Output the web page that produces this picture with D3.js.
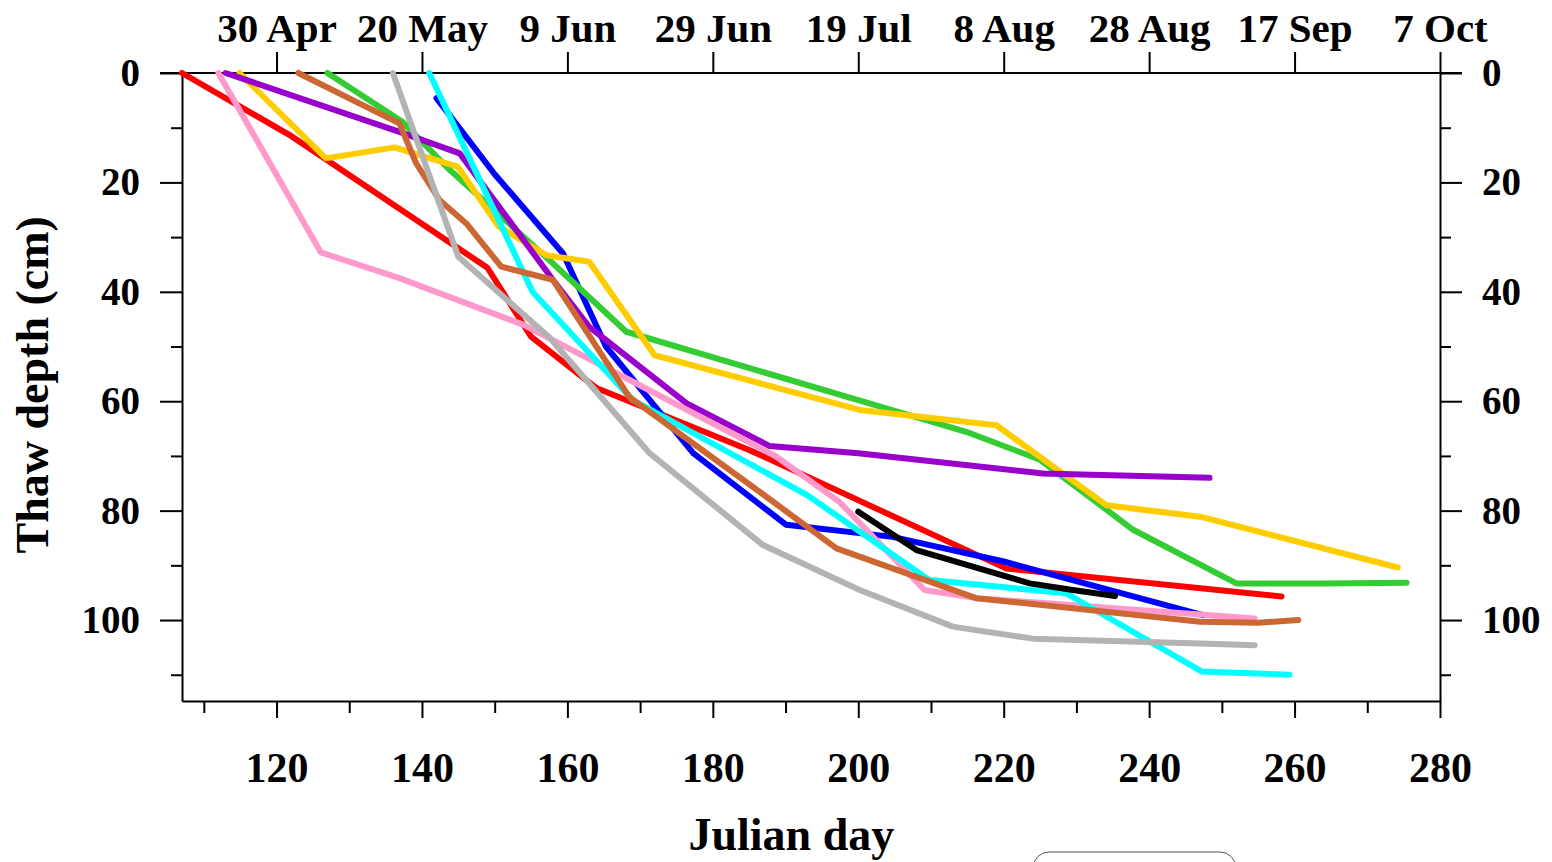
<!DOCTYPE html>
<html>
<head>
<meta charset="utf-8">
<script src="https://cdn.jsdelivr.net/npm/d3@7"></script>
<style>
  body { margin: 0; background: #fff; }
  text { font-family: "Liberation Serif", "Times New Roman", serif; font-weight: bold; fill: #000; }
  .axis path, .axis line { stroke: #000; stroke-width: 2; }
  .series { fill: none; stroke-width: 6; stroke-linejoin: round; stroke-linecap: round; }
</style>
</head>
<body>
<svg id="chart" width="1552" height="862"></svg>
<script>
// tick labels
var dayTicks = [120, 140, 160, 180, 200, 220, 240, 260, 280];
var dateLabels = ["30 Apr", "20 May", "9 Jun", "29 Jun", "19 Jul", "8 Aug", "28 Aug", "17 Sep", "7 Oct"];
var depthTicks = [0, 20, 40, 60, 80, 100];

// series: [julian day, thaw depth cm]
var seriesNames = ["red", "blue", "green", "yellow", "purple", "pink", "cyan", "brown", "gray", "black"];
var seriesColors = ["#ff0000", "#0000ff", "#33cc33", "#ffcc00", "#9900cc", "#ff99cc", "#00ffff", "#cc6633", "#b3b3b3", "#000000"];

var red = [[107,0],[122,11.5],[149,35.6],[155,48.2],[164,57.6],[185,68.9],[220.4,90.6],[258.2,95.7]];
var blue = [[142,4.6],[150,18.5],[159.4,33],[165.3,50],[177.3,69.5],[190.1,82.6],[204.7,84.8],[220,89.3],[247.4,99.1]];
var green = [[127,0],[137.3,8.9],[143.8,17.7],[157.5,34.2],[168.1,47.3],[200,59.8],[215.3,65.8],[225,70.7],[237.8,83.5],[252,93.3],[264,93.3],[275.4,93.2]];
var yellow = [[114.9,0],[126.8,15.6],[136.2,13.6],[144.9,17.1],[150.5,28],[157.1,33.3],[163,34.5],[172,51.6],[200.2,61.6],[219,64.4],[234.1,79],[247,81.1],[274.2,90.4]];
var purple = [[113,0],[137,10.8],[145.2,14.7],[158,37.8],[163,46.4],[176.4,60.4],[187.8,68.2],[200,69.5],[225.4,73.2],[248.3,74]];
var pink = [[112,0],[126.1,32.8],[136.9,37.5],[153.9,46],[168.1,55.8],[188.7,70.1],[197.4,78.4],[209.1,94.5],[216.2,96],[254.5,99.7]];
var cyan = [[141,0],[155.2,40],[169,59.8],[192.9,77.1],[209.8,92.7],[228.6,95.1],[247.2,109.4],[259.3,110]];
var brown = [[123,0],[136.9,9.2],[139.2,16.5],[142.4,23.2],[146.1,27.5],[150.9,35.4],[158,37.8],[168.5,59.2],[187.4,77.5],[197,86.9],[216.2,96],[247,100.3],[255,100.5],[260.5,100]];
var gray = [[136,0],[145,33.6],[157.5,48.3],[171.3,69.5],[186.9,86.3],[200.2,94.5],[213,101.2],[224,103.4],[247,104.3],[254.5,104.6]];
var black = [[200,80.2],[208,87.2],[223.6,93.3],[229.5,94.5],[235.3,95.6]];

var seriesData = [red, blue, green, yellow, purple, pink, cyan, brown, gray, black];

var svg = d3.select("#chart");
var margin = {left: 182, top: 73, right: 112, bottom: 161};
var width = 1552 - margin.left - margin.right,
    height = 862 - margin.top - margin.bottom;

var x = d3.scaleLinear().domain([107, 280]).range([0, width]);
var y = d3.scaleLinear().domain([0, 114.8]).range([0, height]);

var g = svg.append("g").attr("transform", "translate(" + margin.left + "," + margin.top + ")");

// minor ticks
var minorDays = d3.range(110, 281, 20);
var minorDepth = d3.range(10, 115, 20);

// bottom axis
var xBottom = g.append("g").attr("class", "axis")
    .attr("transform", "translate(0," + height + ")")
    .call(d3.axisBottom(x).tickValues(dayTicks).tickSize(17).tickSizeOuter(0).tickPadding(34));
xBottom.selectAll("text").style("font-size", "42px");
g.append("g").attr("class", "axis")
    .attr("transform", "translate(0," + height + ")")
    .call(d3.axisBottom(x).tickValues(minorDays).tickSize(12).tickSizeOuter(0).tickFormat(""))
    .select(".domain").remove();

// top axis with dates
var xTop = g.append("g").attr("class", "axis")
    .call(d3.axisTop(x).tickValues(dayTicks).tickSize(21).tickSizeOuter(0).tickPadding(10)
      .tickFormat(function(d, i) { return dateLabels[i]; }));
xTop.select(".domain").attr("d", "M-22,0H" + (width + 22));
xTop.selectAll("text").style("font-size", "41px");

// left axis
var yLeft = g.append("g").attr("class", "axis")
    .call(d3.axisLeft(y).tickValues(depthTicks).tickSize(22).tickSizeOuter(0).tickPadding(20));
yLeft.selectAll("text").style("font-size", "39px");
g.append("g").attr("class", "axis")
    .call(d3.axisLeft(y).tickValues(minorDepth).tickSize(11).tickSizeOuter(0).tickFormat(""))
    .select(".domain").remove();

// right axis
var yRight = g.append("g").attr("class", "axis")
    .attr("transform", "translate(" + width + ",0)")
    .call(d3.axisRight(y).tickValues(depthTicks).tickSize(22).tickSizeOuter(0).tickPadding(20));
yRight.selectAll("text").style("font-size", "39px");
g.append("g").attr("class", "axis")
    .attr("transform", "translate(" + width + ",0)")
    .call(d3.axisRight(y).tickValues(minorDepth).tickSize(11).tickSizeOuter(0).tickFormat(""))
    .select(".domain").remove();

// lines
var line = d3.line()
    .x(function(d) { return x(d[0]); })
    .y(function(d) { return y(d[1]); });

g.selectAll(".series")
    .data(seriesData)
  .enter().append("path")
    .attr("class", function(d, i) { return "series " + seriesNames[i]; })
    .attr("d", line)
    .style("stroke", function(d, i) { return seriesColors[i]; });

// axis titles
svg.append("text")
    .attr("x", margin.left + x(190.8))
    .attr("y", 850)
    .attr("text-anchor", "middle")
    .style("font-size", "46px")
    .text("Julian day");

svg.append("text")
    .attr("transform", "translate(48," + (margin.top + y(57)) + ") rotate(-90)")
    .attr("text-anchor", "middle")
    .style("font-size", "46px")
    .text("Thaw depth (cm)");

// legend box peeking in at the bottom
svg.append("rect")
    .attr("x", 1033).attr("y", 852)
    .attr("width", 203).attr("height", 60)
    .attr("rx", 16).attr("ry", 16)
    .attr("fill", "#fff")
    .attr("stroke", "#555")
    .attr("stroke-width", 1);
</script>
</body>
</html>
